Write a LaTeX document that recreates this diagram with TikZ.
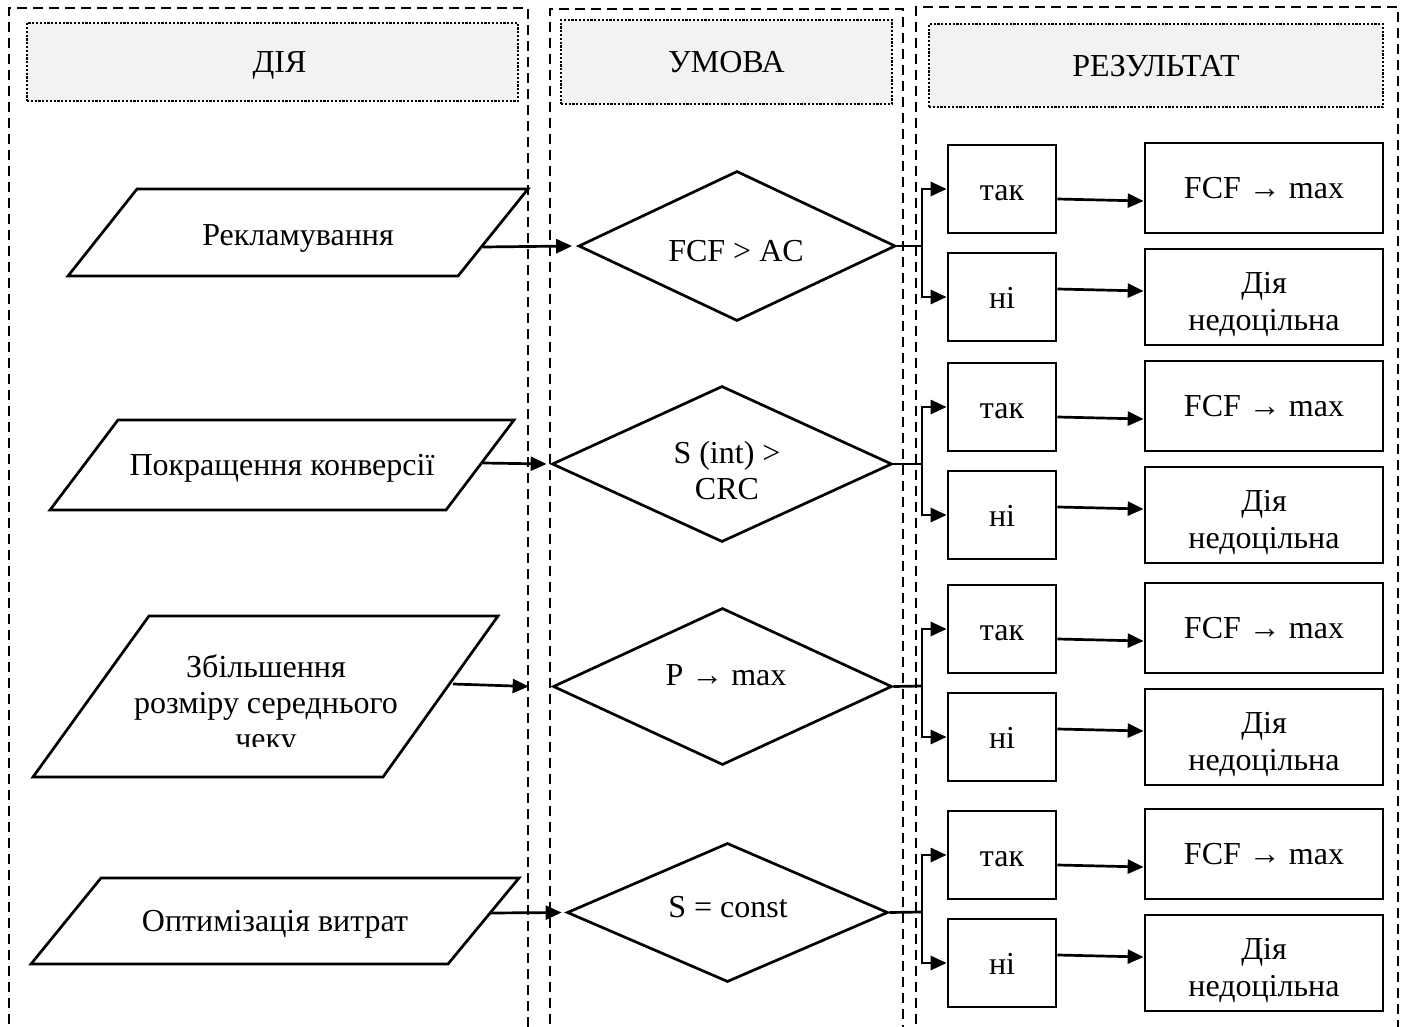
\documentclass[tikz,border=0pt]{standalone}
\usepackage{fontspec}
\setmainfont{Liberation Serif}
\usetikzlibrary{shapes.geometric,arrows.meta}
\begin{document}
\begin{tikzpicture}[x=1pt,y=-1pt,
  every node/.style={font=\fontsize{32}{34}\selectfont, inner sep=0pt, align=center},
  nodepth/.style={text depth=0pt},
  col/.style={line width=2.8pt, dash pattern=on 10pt off 6pt},
  hdr/.style={draw, fill=black!5, line width=2.6pt, dash pattern=on 2.2pt off 1.6pt, text depth=0pt},
  shp/.style={draw, line width=2.7pt, line join=miter},
  dia/.style={shape=diamond, draw, line width=2.7pt, inner sep=0pt},
  box/.style={draw, line width=2.7pt, inner sep=0pt},
  arr/.style={line width=2.7pt, -{Triangle[length=16pt,width=14pt]}},
  ln/.style={line width=2.7pt}
]
\useasboundingbox (0,0) rectangle (1406,1027);
\clip (0,0) rectangle (1406,1027);

% columns
\draw[col] (9,1040) -- (9,8) -- (528,8) -- (528,1040);
\draw[col] (550,1040) -- (550,9) -- (903,9) -- (903,1040);
\draw[col] (916,1040) -- (916,7) -- (1398,7) -- (1398,1040);

% headers
\node[hdr, minimum width=491pt, minimum height=78pt] (h1) at (272.5,62) {\hspace*{14pt}ДІЯ};
\node[hdr, minimum width=331pt, minimum height=84pt] (h2) at (726.5,62) {УМОВА};
\node[hdr, minimum width=454pt, minimum height=83pt] (h3) at (1156,65.5) {РЕЗУЛЬТАТ};

% parallelograms (actions)
\draw[shp] (137,189) -- (528,189) -- (458,276) -- (68,276) -- cycle;
\coordinate (p1a) at (483,247);
\node[nodepth] (a1) at (298,235) {Рекламування};

\draw[shp] (118,420) -- (514,420) -- (446,510) -- (50,510) -- cycle;
\coordinate (p2a) at (483,463);
\node[nodepth] (a2) at (282,465) {Покращення конверсії};

\draw[shp] (149,616) -- (498,616) -- (383,777) -- (33,777) -- cycle;
\coordinate (p3a) at (453,684);
\begin{scope}
  \clip (0,600) rectangle (600,746);
  \node[font=\fontsize{32}{36}\selectfont] (a3) at (266,705.5) {Збільшення\\розміру середнього\\чеку};
\end{scope}

\draw[shp] (101,878) -- (519,878) -- (448,964) -- (31,964) -- cycle;
\coordinate (p4a) at (490,913);
\node[nodepth] (a4) at (275,921) {Оптимізація витрат};

% diamonds (conditions)
\node[dia, minimum width=317pt, minimum height=150pt] (d1) at (737,246) {};
\node (c1) at (736,251) {FCF > AC};
\node[dia, minimum width=340pt, minimum height=156pt] (d2) at (722,464) {};
\node[font=\fontsize{32}{36}\selectfont] (c2) at (727,471) {S (int) >\\CRC};
\node[dia, minimum width=339pt, minimum height=157pt] (d3) at (722.5,686.5) {};
\node (c3) at (726,675) {P → max};
\node[dia, minimum width=321pt, minimum height=139pt] (d4) at (727.5,912.5) {};
\node (c4) at (728,907) {S = const};

% arrows from actions to conditions
\draw[arr] (p1a) -- ([xshift=-5pt]d1.west);
\draw[arr] (p2a) -- ([xshift=-4pt]d2.west);
\draw[arr] (p3a) -- ([xshift=-23pt]d3.west);
\draw[arr] (p4a) -- ([xshift=-4pt]d4.west);

% results
\foreach \i/\D in {1/246, 2/464, 3/686, 4/912} {
  \node[box, minimum width=108pt, minimum height=88pt, text height=23pt, text depth=0pt] (t\i) at (1002,\D-57) {так};
  \node[box, minimum width=108pt, minimum height=88pt, text height=23pt, text depth=0pt] (n\i) at (1002,\D+51) {ні};
  \node[box, minimum width=238pt, minimum height=90pt] (f\i) at (1264,\D-58) {FCF → max};
  \node[box, minimum width=238pt, minimum height=96pt, font=\fontsize{32}{37}\selectfont, text height=67pt, text depth=0pt] (x\i) at (1264,\D+51) {Дія\\недоцільна};
  \coordinate (j\i) at (922,\D);
  \draw[ln] (d\i.east) -- (j\i);
  \draw[arr] (j\i) |- (t\i.west);
  \draw[arr] (j\i) |- (n\i.west);
  \draw[arr] ([yshift=-10pt]t\i.east) -- ([yshift=-13pt]f\i.west);
  \draw[arr] ([yshift=8pt]n\i.east) -- ([yshift=6pt]x\i.west);
}
\end{tikzpicture}
\end{document}
